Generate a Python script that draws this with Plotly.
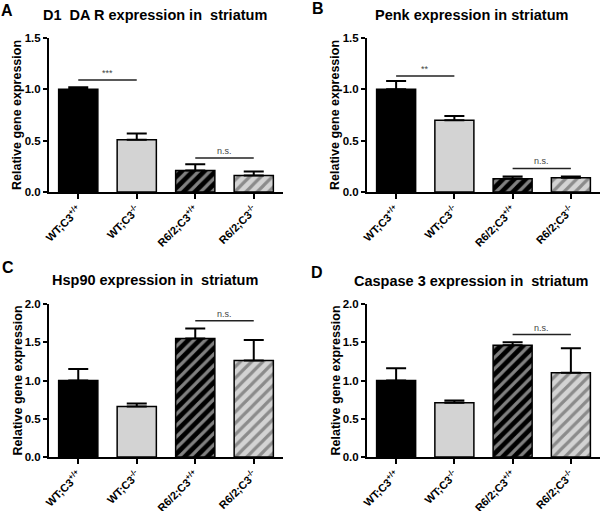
import plotly.graph_objects as go
from plotly.subplots import make_subplots

groups = ["WT;C3<sup>+/+</sup>", "WT;C3<sup>-/-</sup>", "R6/2;C3<sup>+/+</sup>", "R6/2;C3<sup>-/-</sup>"]

d1_mean = [1.00, 0.51, 0.21, 0.16]
d1_sem = [0.02, 0.06, 0.06, 0.04]
penk_mean = [1.00, 0.70, 0.13, 0.14]
penk_sem = [0.08, 0.04, 0.02, 0.01]
hsp90_mean = [1.00, 0.66, 1.55, 1.26]
hsp90_sem = [0.15, 0.04, 0.13, 0.27]
casp3_mean = [1.00, 0.71, 1.46, 1.10]
casp3_sem = [0.16, 0.03, 0.04, 0.32]

titles = ["D1  DA R expression in  striatum", "Penk expression in striatum",
          "Hsp90 expression in  striatum", "Caspase 3 expression in  striatum"]
letters = ["A", "B", "C", "D"]
y_max = [1.5, 1.5, 2.0, 2.0]
y_dtick = [0.5, 0.5, 0.5, 0.5]
# significance: (first group idx, second group idx, height, label)
sig = [
    [(0, 1, 1.09, "***"), (2, 3, 0.33, "n.s.")],
    [(0, 1, 1.13, "**"), (2, 3, 0.23, "n.s.")],
    [(2, 3, 1.78, "n.s.")],
    [(2, 3, 1.60, "n.s.")],
]

means = [d1_mean, penk_mean, hsp90_mean, casp3_mean]
sems = [d1_sem, penk_sem, hsp90_sem, casp3_sem]

W, H = 600, 511
FONT = "Liberation Sans"
bar_colors = ["#000000", "#d3d3d3", "#000000", "#d3d3d3"]

fig = make_subplots(rows=2, cols=2)

# panel geometry in pixels: (left, right, y of zero, y of top)
geom = [(49, 283, 192, 38), (367, 600, 192, 38),
        (49, 283, 457, 304), (367, 600, 457, 304)]
title_pos = [(155, 15), (471, 15), (155, 280), (471, 281)]
letter_pos = [(7, 10), (318, 8), (8, 267), (317, 272)]

for i in range(4):
    r, c = i // 2 + 1, i % 2 + 1
    fig.add_trace(go.Bar(
        x=groups, y=means[i],
        marker=dict(color=bar_colors,
                    line=dict(color="black", width=1.5),
                    pattern=dict(shape=["", "", "/", "/"], fgcolor="white",
                                 size=8, solidity=0.4)),
        error_y=dict(type="data", symmetric=False, array=sems[i],
                     arrayminus=[0, 0, 0, 0], color="black", thickness=2, width=10),
        width=0.67, showlegend=False
    ), row=r, col=c)

    left, right, y0, y1 = geom[i]
    xa = "xaxis" if i == 0 else "xaxis%d" % (i + 1)
    ya = "yaxis" if i == 0 else "yaxis%d" % (i + 1)
    fig.layout[xa].update(
        domain=[left / W, right / W], range=[-0.5, 3.5], automargin=False,
        showline=True, linecolor="black", linewidth=2,
        ticks="outside", ticklen=5, tickwidth=2, tickcolor="black",
        tickangle=-45, showgrid=False,
        tickfont=dict(family=FONT, size=11, color="black", weight="bold"))
    fig.layout[ya].update(
        domain=[1 - y0 / H, 1 - y1 / H], range=[0, y_max[i]], dtick=y_dtick[i],
        tickformat=".1f", automargin=False,
        showline=True, linecolor="black", linewidth=2,
        ticks="outside", ticklen=4, tickwidth=2, tickcolor="black",
        showgrid=False, zeroline=False,
        tickfont=dict(family=FONT, size=11.5, color="black", weight="bold"))

    # y-axis title placed as rotated text
    fig.add_annotation(xref="paper", yref="paper", x=(left - 32) / W,
                       y=1 - (y0 + y1) / 2 / H, text="Relative gene expression",
                       textangle=-90, showarrow=False, xanchor="center", yanchor="middle",
                       font=dict(family=FONT, size=12.5, color="black", weight="bold"))

    xr = "x" if i == 0 else "x%d" % (i + 1)
    yr = "y" if i == 0 else "y%d" % (i + 1)
    for a, b, h, lab in sig[i]:
        fig.add_shape(type="line", xref=xr, yref=yr, x0=a, x1=b, y0=h, y1=h,
                      line=dict(color="#222222", width=1.5))
        fig.add_annotation(xref=xr, yref=yr, x=(a + b) / 2, y=h, text=lab,
                           showarrow=False, yanchor="bottom", yshift=0,
                           font=dict(family=FONT, size=9, color="#444444"))

    tx, ty = title_pos[i]
    fig.add_annotation(xref="paper", yref="paper", x=tx / W, y=1 - ty / H,
                       text=titles[i], showarrow=False, xanchor="center", yanchor="middle",
                       font=dict(family=FONT, size=14.5, color="black", weight="bold"))
    lx, ly = letter_pos[i]
    fig.add_annotation(xref="paper", yref="paper", x=lx / W, y=1 - ly / H,
                       text=letters[i], showarrow=False, xanchor="center", yanchor="middle",
                       font=dict(family=FONT, size=16, color="black", weight="bold"))

fig.update_layout(width=W, height=H, margin=dict(l=0, r=0, t=0, b=0),
                  plot_bgcolor="white", paper_bgcolor="white", bargap=0.33)

# the page's default body margin would push the figure off the window
fig.write_html("out.html", config={"displayModeBar": False},
               post_script="document.body.style.margin='0';")
